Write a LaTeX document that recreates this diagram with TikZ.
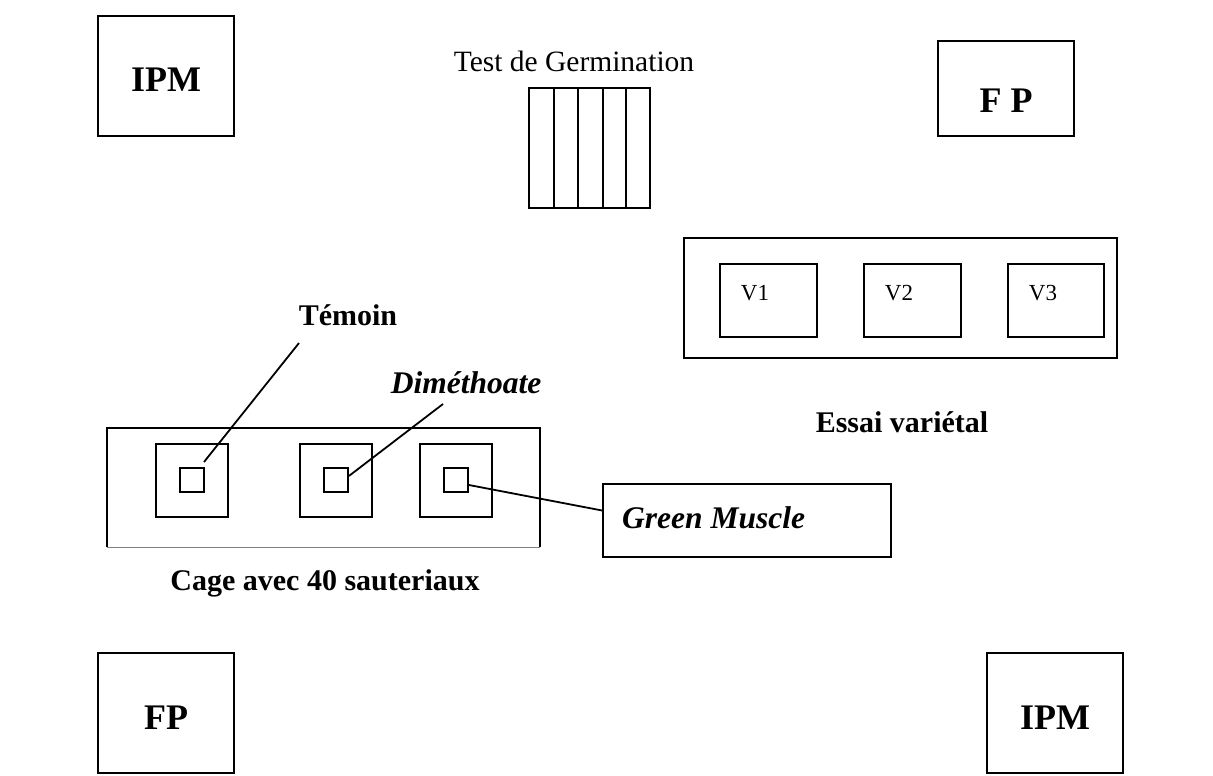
\documentclass[tikz,border=0pt]{standalone}
\usepackage{fontspec}
\setmainfont{Liberation Serif}
\usetikzlibrary{calc}
\begin{document}
\begin{tikzpicture}[x=1pt,y=-1pt,
  box/.style={draw,line width=1.8pt,inner sep=0pt,minimum width=#1},
  lbl/.style={inner sep=0pt,anchor=base},
  big/.style={lbl,font=\fontsize{36}{40}\selectfont\bfseries},
  mid/.style={lbl,font=\fontsize{30}{34}\selectfont\bfseries},
  midit/.style={lbl,font=\fontsize{31.5}{35}\selectfont\bfseries\itshape},
  reg/.style={lbl,font=\fontsize{29.5}{34}\selectfont},
  small/.style={lbl,font=\fontsize{23}{26}\selectfont},
  conn/.style={line width=1.8pt}]
\useasboundingbox (0,0) rectangle (1213,776);
% corner plots
\node[box=136pt,minimum height=120pt] (ipmA) at (166,76) {};
\node[big] (ipmAt) at (166,92) {IPM};
\node[box=136pt,minimum height=95pt] (fpA) at (1006,88.5) {};
\node[big] (fpAt) at (1006,112) {F P};
\node[box=136pt,minimum height=120pt] (fpB) at (166,713) {};
\node[big] (fpBt) at (166,729) {FP};
\node[box=136pt,minimum height=120pt] (ipmB) at (1055,713) {};
\node[big] (ipmBt) at (1055,729) {IPM};
% germination test
\node[reg] (germt) at (574,72) {Test de Germination};
\node[box=121pt,minimum height=120pt] (germ) at (589.5,148) {};
\foreach \x in {554,578,603,626}
  \draw[conn] (\x,88) -- (\x,208);
% varietal trial
\node[box=433pt,minimum height=120pt] (essai) at (900.5,298) {};
\node[box=97pt,minimum height=73pt] (v1) at (768.5,300.5) {};
\node[box=97pt,minimum height=73pt] (v2) at (912.5,300.5) {};
\node[box=96pt,minimum height=73pt] (v3) at (1056,300.5) {};
\node[small] (v1t) at (755,300) {V1};
\node[small] (v2t) at (899,300) {V2};
\node[small] (v3t) at (1043,300) {V3};
\node[mid] (essait) at (902,432) {Essai variétal};
% cage
\draw[line width=1.8pt] (107,547) -- (107,428) -- (540,428) -- (540,547);
\draw[line width=0.8pt,gray] (107,547) -- (540,547);
\node[box=72pt,minimum height=73pt] (s1) at (192,480.5) {};
\node[box=72pt,minimum height=73pt] (s2) at (336,480.5) {};
\node[box=72pt,minimum height=73pt] (s3) at (456,480.5) {};
\node[box=24pt,minimum height=24pt] (i1) at (192,480) {};
\node[box=24pt,minimum height=24pt] (i2) at (336,480) {};
\node[box=24pt,minimum height=24pt] (i3) at (456,480) {};
\node[mid] (cage) at (325,590) {Cage avec 40 sauteriaux};
% labels and connectors
\node[mid] (temoin) at (348,325) {Témoin};
\node[midit] (dime) at (466,393) {Diméthoate};
\node[box=288pt,minimum height=73pt] (gm) at (747,520.5) {};
\node[midit,anchor=base west] (gmt) at (622,528) {Green Muscle};
\coordinate (temA) at (299,343);
\coordinate (temB) at (204,462);
\coordinate (dimA) at (443,404);
\draw[conn] (temA) -- (temB);
\draw[conn] (dimA) -- ($(i2.east)+(0,-4)$);
\draw[conn] ($(i3.east)+(0,5)$) -- ($(gm.west)+(0,-10)$);
\end{tikzpicture}
\end{document}
